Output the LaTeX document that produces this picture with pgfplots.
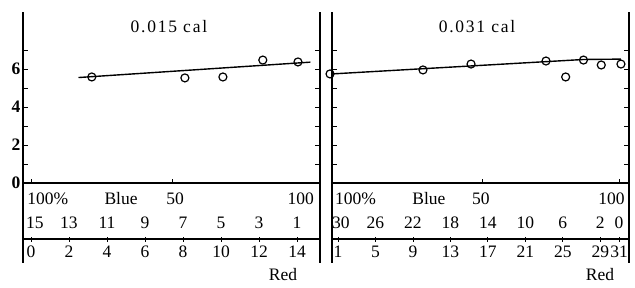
\documentclass[border=0pt]{standalone}
\usepackage{fontspec}
\setmainfont{Liberation Serif}
\usepackage{pgfplots}
\pgfplotsset{compat=1.18}
\tikzset{tx/.style={font=\fontsize{17.5}{18}\selectfont, inner sep=0pt},
 ttl/.style={font=\fontsize{17.5}{18}\selectfont\addfontfeatures{LetterSpace=10}, inner sep=0pt}}
\begin{document}
\begin{tikzpicture}[x=1pt,y=1pt]
\useasboundingbox (0,0) rectangle (635,287);
\pgfplotsset{
 panel/.style={
  scale only axis, width=297pt, height=227pt,
  ymin=-2.95, ymax=9, clip=false,
  axis line style={draw=none},
  xtick pos=bottom, ytick pos=both,
  tick align=inside, major tick length=5pt,
  tick style={black, line width=0.9pt},
  xtick style={yshift=-2.5pt},
  ytick={0,1,2,3,4,5,6,7},
  /pgf/number format/assume math mode=true,
  tick label style={font=\fontsize{17.5}{18}\selectfont},
  yticklabel style={font=\fontsize{17.5}{18}\selectfont\bfseries, xshift=1pt},
  xticklabel style={yshift=-3.5pt},
 },
}
% ---------- left panel ----------
\begin{axis}[panel, at={(23pt,48pt)}, anchor=south west,
  xmin=-0.42, xmax=15.21,
  xtick={0,2,4,6,8,10,12,14},
  xticklabels={0,2,4,6,8,10,12,14},
  yticklabels={0,,2,,4,,6,},
]
\draw[line width=1.4pt] (axis cs:-0.42,-4.21) -- (axis cs:-0.42,9);
\draw[line width=1.4pt] (axis cs:15.21,-4.21) -- (axis cs:15.21,9);
\draw[line width=1.1pt] (axis cs:-0.42,0) -- (axis cs:15.21,0);
\draw[line width=1.1pt] (axis cs:-0.42,-2.95) -- (axis cs:15.21,-2.95);
\draw[line width=0.9pt] (axis cs:0,0) -- (axis cs:0,0.22);
\draw[line width=0.9pt] (axis cs:7.47,0) -- (axis cs:7.47,0.22);
\addplot[black, line width=1.4pt] coordinates {(2.5,5.55) (14.7,6.36)};
\addplot[only marks, mark=o, mark size=4pt, mark options={fill=white, line width=1.2pt}] coordinates {
 (3.2,5.58) (8.1,5.53) (10.1,5.58) (12.2,6.47) (14.05,6.37)};
\node[ttl] at (axis cs:7.26,8.26) {0.015 cal};
\node[tx, anchor=west] at (axis cs:-0.2,-0.84) {100\%};
\node[tx] at (axis cs:4.74,-0.84) {Blue};
\node[tx] at (axis cs:7.58,-0.84) {50};
\node[tx] at (axis cs:14.2,-0.84) {100};
\node[tx] at (axis cs:0.2,-2.1) {15};
\node[tx] at (axis cs:2,-2.1) {13};
\node[tx] at (axis cs:4,-2.1) {11};
\node[tx] at (axis cs:6,-2.1) {9};
\node[tx] at (axis cs:8,-2.1) {7};
\node[tx] at (axis cs:10,-2.1) {5};
\node[tx] at (axis cs:12,-2.1) {3};
\node[tx] at (axis cs:14,-2.1) {1};
\node[tx] at (axis cs:13.26,-4.84) {Red};
\end{axis}
% ---------- right panel ----------
\begin{axis}[panel, at={(332pt,48pt)}, anchor=south west,
  xmin=0.36, xmax=32.06,
  xtick={1,5,9,13,17,21,25,29,31},
  xticklabels={1,5,9,13,17,21,25,29,31},
  yticklabels={},
]
\draw[line width=1.4pt] (axis cs:0.36,-4.21) -- (axis cs:0.36,9);
\draw[line width=1.4pt] (axis cs:32.06,-4.21) -- (axis cs:32.06,9);
\draw[line width=1.1pt] (axis cs:0.36,0) -- (axis cs:32.06,0);
\draw[line width=1.1pt] (axis cs:0.36,-2.95) -- (axis cs:32.06,-2.95);
\draw[line width=0.9pt] (axis cs:16.4,0) -- (axis cs:16.4,0.22);
\draw[line width=0.9pt] (axis cs:31,0) -- (axis cs:31,0.22);
\addplot[black, line width=1.4pt] coordinates {(0.36,5.74) (27.2,6.5) (31.2,6.52)};
\addplot[only marks, mark=o, mark size=4pt, mark options={fill=white, line width=1.2pt}] coordinates {
 (0.15,5.74) (10.07,5.95) (15.2,6.26) (23.2,6.42) (25.3,5.58) (27.2,6.47) (29.1,6.21) (31.2,6.26)};
\node[ttl] at (axis cs:15.84,8.26) {0.031 cal};
\node[tx, anchor=west] at (axis cs:0.68,-0.84) {100\%};
\node[tx] at (axis cs:10.7,-0.84) {Blue};
\node[tx] at (axis cs:16.26,-0.84) {50};
\node[tx] at (axis cs:30.2,-0.84) {100};
\node[tx] at (axis cs:1.3,-2.1) {30};
\node[tx] at (axis cs:5,-2.1) {26};
\node[tx] at (axis cs:9,-2.1) {22};
\node[tx] at (axis cs:13,-2.1) {18};
\node[tx] at (axis cs:17,-2.1) {14};
\node[tx] at (axis cs:21,-2.1) {10};
\node[tx] at (axis cs:25,-2.1) {6};
\node[tx] at (axis cs:29,-2.1) {2};
\node[tx] at (axis cs:31,-2.1) {0};
\node[tx] at (axis cs:28.97,-4.84) {Red};
\end{axis}
\end{tikzpicture}
\end{document}
